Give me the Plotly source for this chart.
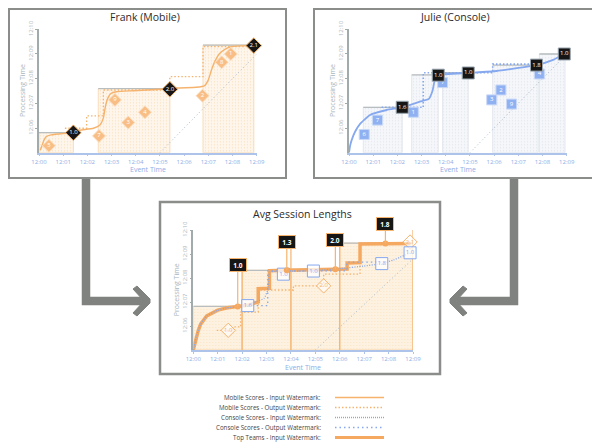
import plotly.graph_objects as go

W, H = 600, 447
OFF = 8  # the page body adds an 8px margin; lay out in window pixels
def px(x): return (x - OFF) / W
def py(y): return 1 - (y - OFF) / H

FONT = "Open Sans"

# ---------------- shared axis labels ----------------
time_vals = [0, 1, 2, 3, 4, 5, 6, 7, 8, 9]
time_text = ["12:00", "12:01", "12:02", "12:03", "12:04", "12:05", "12:06", "12:07", "12:08", "12:09"]
ptime_vals = [6, 7, 8, 9, 10]
ptime_text = ["12:06", "12:07", "12:08", "12:09", "12:10"]
diag_x = [5, 9]
diag_y = [5, 9]

# ---------------- Frank (Mobile) ----------------
frank_pts_x = [0.41, 2.48, 3.69, 4.38, 3.14, 6.76, 7.55, 7.93]
frank_pts_y = [5.28, 5.68, 6.22, 6.64, 7.14, 7.31, 8.66, 9.0]
frank_pts_v = ["5", "7", "3", "4", "9", "2", "8", "1"]
frank_res_x = [1.42, 5.41, 8.88]
frank_res_y = [5.81, 7.57, 9.34]
frank_res_v = ["1.0", "2.0", "2.1"]
frank_in_x = [0.05, 0.11, 0.2, 0.3, 0.5, 1.0, 1.42, 1.56, 2.25, 2.52, 2.66, 2.75, 2.85, 2.97, 3.2, 3.9, 5.0, 5.41, 5.69, 6.5, 6.85, 7.0, 7.13, 7.27, 7.45, 7.7, 7.95, 8.58, 8.88]
frank_in_y = [5.1, 5.24, 5.5, 5.65, 5.72, 5.78, 5.81, 5.89, 5.99, 6.12, 6.4, 6.9, 7.22, 7.4, 7.47, 7.51, 7.57, 7.57, 7.62, 7.65, 7.72, 7.95, 8.35, 8.7, 9.0, 9.2, 9.3, 9.34, 9.34]
frank_out_x = [1.07, 1.97, 1.97, 2.66, 2.66, 5.41, 5.41, 6.78, 6.78, 8.88]
frank_out_y = [5.99, 5.99, 6.49, 6.49, 7.54, 7.54, 8.08, 8.08, 9.3, 9.3]
frank_win_start = [0.0, 2.45, 6.78]
frank_win_end = [1.42, 5.41, 8.88]
frank_win_top = [5.81, 7.6, 9.36]

# ---------------- Julie (Console) ----------------
julie_pts_x = [0.63, 1.18, 2.66, 3.87, 5.9, 6.28, 6.72, 7.87]
julie_pts_y = [5.74, 6.32, 6.64, 7.84, 7.14, 7.54, 6.97, 8.19]
julie_pts_v = ["6", "7", "1", "7", "3", "2", "9", "4"]
julie_res_x = [2.2, 3.69, 4.93, 7.75, 8.9]
julie_res_y = [6.84, 8.14, 8.23, 8.55, 9.0]
julie_res_v = ["1.6", "1.0", "1.0", "1.8", "1.0"]
julie_in_x = [0.0, 0.05, 0.11, 0.25, 0.45, 0.87, 1.56, 2.2, 2.93, 3.3, 3.45, 3.55, 3.69, 4.93, 6.1, 7.75, 8.44, 8.9]
julie_in_y = [5.0, 5.3, 5.51, 5.85, 6.16, 6.53, 6.73, 6.84, 7.07, 7.18, 7.5, 7.95, 8.14, 8.23, 8.31, 8.55, 8.76, 9.0]
julie_out_x = [1.35, 3.07, 3.07, 5.94, 5.94, 7.75]
julie_out_y = [6.84, 6.84, 8.24, 8.24, 8.59, 8.59]
julie_win_start = [0.59, 2.59, 3.87, 5.94, 7.87]
julie_win_end = [2.2, 3.69, 4.93, 7.82, 8.93]
julie_win_top = [6.84, 8.15, 8.24, 8.55, 9.0]

# ---------------- Avg Session Lengths ----------------
avg_tt_x = [0.0, 0.04, 0.12, 0.2, 0.3, 0.55, 1.0, 1.4, 1.82, 2.2, 2.66, 2.66, 3.12, 3.12, 3.83, 5.82, 6.3, 6.3, 6.83, 6.83, 7.87, 8.9]
avg_tt_y = [5.0, 5.15, 5.55, 5.8, 6.08, 6.42, 6.66, 6.76, 6.81, 6.86, 7.0, 7.55, 7.57, 8.3, 8.32, 8.36, 8.37, 8.63, 8.64, 9.42, 9.44, 9.44]
avg_con_in_x = [0.0, 0.04, 0.12, 0.2, 0.3, 0.55, 1.0, 1.4, 1.82, 2.23, 2.6, 2.9, 3.05, 3.14, 3.69, 4.92, 6.1, 7.0, 7.72, 8.2, 8.88]
avg_con_in_y = [5.0, 5.15, 5.55, 5.8, 6.08, 6.42, 6.66, 6.76, 6.81, 6.85, 7.03, 7.15, 7.5, 8.25, 8.28, 8.3, 8.4, 8.5, 8.6, 8.75, 9.05]
avg_con_out_x = [2.23, 3.05, 3.05, 6.29, 6.29, 7.72]
avg_con_out_y = [6.85, 6.85, 8.3, 8.3, 8.66, 8.66]
avg_mob_out_x = [0.96, 1.64, 1.64, 1.94, 1.94, 2.66, 2.66, 4.1, 4.1, 5.34, 5.34, 6.83, 6.83, 8.88]
avg_mob_out_y = [5.82, 5.82, 5.96, 5.96, 6.58, 6.58, 7.5, 7.5, 7.67, 7.67, 8.16, 8.16, 9.45, 9.45]
avg_mob_res_x = [1.43, 5.34, 8.88]
avg_mob_res_y = [5.82, 7.67, 9.5]
avg_mob_res_v = ["1.0", "2.0", "2.1"]
avg_con_res_x = [2.23, 3.69, 4.92, 7.72, 8.88]
avg_con_res_y = [6.85, 8.16, 8.29, 8.6, 9.05]
avg_con_res_v = ["1.6", "1.0", "1.0", "1.8", "1.0"]
avg_win_start = [0, 2, 4, 6]
avg_win_end = [2, 4, 6, 9]
avg_win_top = [6.82, 8.32, 8.36, 9.45]
avg_labels = ["1.0", "1.3", "2.0", "1.8"]
avg_label_x = [1.82, 3.83, 5.82, 7.87]
avg_label_marker_y = [6.81, 8.32, 8.36, 9.44]
avg_label_box_y = [8.54, 9.49, 9.57, 10.27]

legend_labels = ["Mobile Scores - Input Watermark:", "Mobile Scores - Output Watermark:",
                 "Console Scores - Input Watermark:", "Console Scores - Output Watermark:",
                 "Top Teams - Input Watermark:"]

# ---------------- styles ----------------
ORANGE = "#f5b36e"
ORANGE_T = "#f4a860"
ORANGE_PT = "#f8be85"
BLUE = "#86a8ee"
BLUE_PT = "#8fb1f2"
GRAY = "#b8bec0"
BLACK = "#161616"
AXIS_Y = "#a2abac"
AXIS_X = "#aec3ea"
TXT_X = "#8eaee6"
TXT_Y = "#aab6bd"
FRAME = "#8a8d8a"
ARROW = "#7f827e"
DOT = "1.5px,2px"
DOT_SPARSE = "1.5px,3px"

fig = go.Figure()

def windows(xa, ya, starts, ends, tops, bg, fg, edge, sol):
    for s, e, t in zip(starts, ends, tops):
        fig.add_trace(go.Scatter(x=[s, s, e, e, s], y=[5, t, t, 5, 5], mode="lines", fill="toself",
                                 fillcolor=bg, fillpattern=dict(shape=".", bgcolor=bg, fgcolor=fg, size=3, solidity=sol),
                                 line=dict(color=edge, width=1), xaxis=xa, yaxis=ya, hoverinfo="skip"))
        fig.add_trace(go.Scatter(x=[s, e], y=[t, t], mode="lines", line=dict(color=GRAY, width=1.3),
                                 xaxis=xa, yaxis=ya, hoverinfo="skip"))

def line(xa, ya, x, y, color, width, dash="solid", shape="linear"):
    ld = dict(color=color, width=width, dash=dash, shape=shape)
    if shape == "spline":
        ld["smoothing"] = 0.4
    fig.add_trace(go.Scatter(x=x, y=y, mode="lines", line=ld, xaxis=xa, yaxis=ya, hoverinfo="skip"))

def marks(xa, ya, x, y, t, symbol, size, fill, edge, tcolor, ew=1):
    fig.add_trace(go.Scatter(x=x, y=y, text=t, mode="markers+text", textposition="middle center",
                             marker=dict(symbol=symbol, size=size, color=fill, line=dict(color=edge, width=ew)),
                             textfont=dict(size=6, color=tcolor, family=FONT), cliponaxis=False,
                             xaxis=xa, yaxis=ya, hoverinfo="skip"))

# Frank
windows("x", "y", frank_win_start, frank_win_end, frank_win_top, "#fef6ec", "#f6cc98", "#f9dcb8", 0.15)
line("x", "y", diag_x, diag_y, "#a9b9c9", 1, "1px,2.5px")
line("x", "y", frank_out_x, frank_out_y, ORANGE, 1.3, DOT)
line("x", "y", frank_in_x, frank_in_y, ORANGE, 1.4, "solid", "spline")
marks("x", "y", frank_pts_x, frank_pts_y, frank_pts_v, "diamond", 10, ORANGE_PT, "#fbe0c2", "white")
marks("x", "y", frank_res_x, frank_res_y, frank_res_v, "diamond", 12, BLACK, ORANGE, "white")

# Julie
windows("x2", "y2", julie_win_start, julie_win_end, julie_win_top, "#f5f7fa", "#d0d7e0", "#e3e7ee", 0.2)
line("x2", "y2", [5, 8.9], [5, 8.9], "#a9b9c9", 1, "1px,2.5px")
line("x2", "y2", julie_out_x, julie_out_y, BLUE, 1.6, DOT)
line("x2", "y2", julie_in_x, julie_in_y, BLUE, 1.8, "solid", "spline")
marks("x2", "y2", julie_pts_x, julie_pts_y, julie_pts_v, "square", 10, BLUE_PT, "#c9d8f7", "white")
marks("x2", "y2", julie_res_x, julie_res_y, julie_res_v, "square", 12, BLACK, "#9aa6b0", "white")

# Avg
windows("x3", "y3", avg_win_start, avg_win_end, avg_win_top, "#fdf2e2", "#f7d3a8", "#f8d2a4", 0.15)
line("x3", "y3", diag_x, [5, 8.8], "#a9b9c9", 1, "1px,2.5px")
for xe, by in zip(avg_win_end, avg_label_box_y):
    line("x3", "y3", [xe, xe], [5, by - 0.25], ORANGE, 1.2)
line("x3", "y3", avg_mob_out_x, avg_mob_out_y, ORANGE, 1.3, DOT)
line("x3", "y3", avg_tt_x, avg_tt_y, ORANGE_T, 3.5)
line("x3", "y3", avg_con_in_x, avg_con_in_y, BLUE, 1.3, "1px,1.5px", "spline")
line("x3", "y3", avg_con_out_x, avg_con_out_y, BLUE, 1.3, DOT_SPARSE)
marks("x3", "y3", avg_mob_res_x, avg_mob_res_y, avg_mob_res_v, "diamond", 11, "rgba(255,255,255,0.6)", ORANGE, ORANGE)
marks("x3", "y3", avg_con_res_x, avg_con_res_y, avg_con_res_v, "square", 12, "rgba(255,255,255,0.75)", BLUE, BLUE)
fig.add_trace(go.Scatter(x=avg_label_x, y=avg_label_marker_y, mode="markers",
                         marker=dict(size=6, color=ORANGE_T), xaxis="x3", yaxis="y3", hoverinfo="skip"))

annotations = []
for lx, my, by, t in zip(avg_label_x, avg_label_marker_y, avg_label_box_y, avg_labels):
    annotations.append(dict(x=lx, y=my, xref="x3", yref="y3", ax=lx, ay=by, axref="x3", ayref="y3",
                            text="&nbsp;<b>" + t + "</b>&nbsp;", showarrow=True, arrowhead=0, arrowwidth=1.2,
                            arrowcolor=ORANGE, bgcolor=BLACK, bordercolor=ORANGE, borderwidth=1, borderpad=1.5,
                            font=dict(color="white", size=6.5, family=FONT)))

# ---------------- axes ----------------
def xcfg(d0, d1, anchor):
    return dict(domain=[px(d0), px(d1)], anchor=anchor, range=[0, 9], tickvals=time_vals, ticktext=time_text,
                showgrid=False, zeroline=False, showline=True, linecolor=AXIS_X, linewidth=1.5,
                ticks="outside", ticklen=2, tickcolor=AXIS_X, tickfont=dict(size=6, color=TXT_X, family=FONT),
                fixedrange=True, automargin=False)

def ycfg(t0, t1, anchor):
    return dict(domain=[py(t1), py(t0)], anchor=anchor, range=[5, 10], tickvals=ptime_vals, ticktext=ptime_text,
                tickangle=-90, showgrid=False, zeroline=False, showline=True, linecolor=AXIS_Y, linewidth=1.5,
                ticks="outside", ticklen=2, tickcolor=AXIS_Y, tickfont=dict(size=6, color=TXT_Y, family=FONT),
                fixedrange=True, automargin=False)

panels = [
    # (x0, x1, ytop, ybottom, title, title_x, title_y)
    (39, 256.7, 29.3, 152.7, "Frank (Mobile)", 145, 17),
    (349, 566.7, 29.3, 152.7, "Julie (Console)", 455, 17),
    (193.3, 413, 230, 350, "Avg Session Lengths", 302, 214),
]

def note(x, y, text, size, color, angle=0, xanchor="center"):
    return dict(x=px(x), y=py(y), xref="paper", yref="paper", text=text, showarrow=False, textangle=angle,
                xanchor=xanchor, yanchor="middle", font=dict(size=size, color=color, family=FONT))

layout_axes = {}
names = [("xaxis", "yaxis", "x", "y"), ("xaxis2", "yaxis2", "x2", "y2"), ("xaxis3", "yaxis3", "x3", "y3")]
for (xn, yn, xa, ya), (x0, x1, yt, yb, title, tx, ty) in zip(names, panels):
    layout_axes[xn] = xcfg(x0, x1, ya)
    layout_axes[yn] = ycfg(yt, yb, xa)
    annotations.append(note(tx, ty, title, 10.5, "#2b2b2b"))
    annotations.append(note((x0 + x1) / 2, yb + 17, "Event Time", 7, TXT_X))
    annotations.append(note(x0 - 17, (yt + yb) / 2, "Processing Time", 7, TXT_Y, angle=-90))

# ---------------- frames, arrows, legend ----------------
shapes = []
for (x0, y0, x1, y1, w) in [(9, 9, 286, 178, 2), (314, 9, 595, 178, 2), (160, 202, 440, 374, 2.5)]:
    shapes.append(dict(type="rect", xref="paper", yref="paper", x0=px(x0), x1=px(x1), y0=py(y0), y1=py(y1),
                       line=dict(color=FRAME, width=w)))

def arrow_path(pts):
    return "M " + " L ".join(f"{px(a)},{py(b)}" for a, b in pts)

shapes.append(dict(type="path", xref="paper", yref="paper", path=arrow_path([(86, 179), (86, 301), (144, 301)]),
                   line=dict(color=ARROW, width=8.5)))
shapes.append(dict(type="path", xref="paper", yref="paper",
                   path=arrow_path([(133, 289), (137, 286), (150, 299), (150, 303), (137, 316), (133, 313), (144, 301)]) + " Z",
                   line=dict(color=ARROW, width=1), fillcolor=ARROW))
shapes.append(dict(type="path", xref="paper", yref="paper", path=arrow_path([(514, 179), (514, 301), (457, 301)]),
                   line=dict(color=ARROW, width=8.5)))
shapes.append(dict(type="path", xref="paper", yref="paper",
                   path=arrow_path([(467, 289), (463, 286), (450, 299), (450, 303), (463, 316), (467, 313), (456, 301)]) + " Z",
                   line=dict(color=ARROW, width=1), fillcolor=ARROW))

legend_styles = [(ORANGE, 1.3, "solid"), (ORANGE, 1.3, DOT), (BLUE, 1.5, "1px,1px"), (BLUE, 1.5, DOT_SPARSE), (ORANGE_T, 3, "solid")]
for i, (lab, (c, w, d)) in enumerate(zip(legend_labels, legend_styles)):
    yy = 397.5 + 10 * i
    annotations.append(note(323, yy, lab, 6.2, "#444", xanchor="right"))
    shapes.append(dict(type="line", xref="paper", yref="paper", x0=px(335), x1=px(384), y0=py(yy), y1=py(yy),
                       line=dict(color=c, width=w, dash=d)))

fig.update_layout(width=W, height=H, margin=dict(l=0, r=0, t=0, b=0, pad=0, autoexpand=False), showlegend=False,
                  paper_bgcolor="white", plot_bgcolor="white", annotations=annotations, shapes=shapes,
                  font=dict(family=FONT), **layout_axes)

fig.write_html("out.html")
